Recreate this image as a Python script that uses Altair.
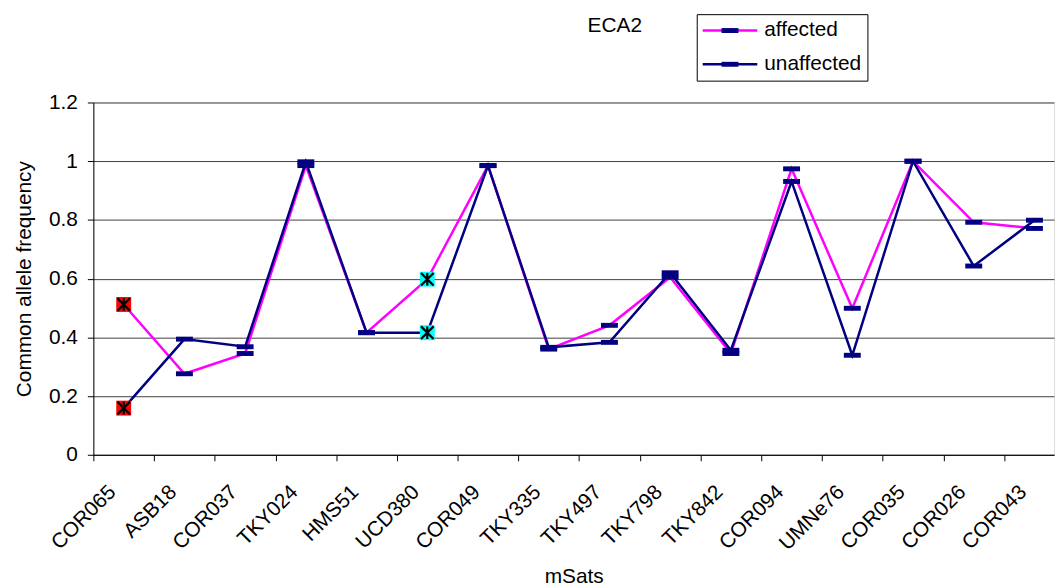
import json
import altair as alt
import pandas as pd

# ---------------- data ----------------
categories = ["COR065", "ASB18", "COR037", "TKY024", "HMS51", "UCD380", "COR049",
              "TKY335", "TKY497", "TKY798", "TKY842", "COR094", "UMNe76", "COR035",
              "COR026", "COR043"]
affected = [0.512, 0.276, 0.345, 0.985, 0.416, 0.598, 0.985, 0.360, 0.441, 0.605,
            0.345, 0.974, 0.499, 1.000, 0.792, 0.771]
unaffected = [0.159, 0.394, 0.368, 0.998, 0.416, 0.416, 0.985, 0.366, 0.383, 0.620,
              0.356, 0.931, 0.339, 1.000, 0.643, 0.799]
series_names = ["affected", "unaffected"]
y_ticks = [0, 0.2, 0.4, 0.6, 0.8, 1.0, 1.2]
highlight = {"COR065": "#FF0000", "UCD380": "#00FFFF"}

rows = []
for i, c in enumerate(categories):
    rows.append({"marker": c, "idx": i, "series": "affected", "value": affected[i]})
    rows.append({"marker": c, "idx": i, "series": "unaffected", "value": unaffected[i]})
df = pd.DataFrame(rows)

# ---------------- style ----------------
FONT = "Liberation Sans"
FS = 21
PINK = "#FF00FF"
NAVY = "#000080"
PLOT_W = 968
BAND = 61.18
X_MAX = PLOT_W / BAND

label_expr = json.dumps(categories) + "[datum.value]"

x_axis = alt.Axis(
    values=list(range(len(categories))), labelExpr=label_expr, title="mSats",
    labelAngle=315, labelAlign="right", labelBaseline="middle", labelOffset=19,
    labelPadding=28, labelFlush=False, labelOverlap=False, labelBound=False,
    labelFont=FONT, labelFontSize=FS, labelColor="black",
    titleFont=FONT, titleFontSize=FS, titleFontWeight="normal", titleColor="black",
    titlePadding=12, tickSize=6, tickColor="black", domainColor="black", grid=False,
)
y_axis = alt.Axis(
    values=y_ticks, format="~g", title="Common allele frequency",
    labelFont=FONT, labelFontSize=FS, labelColor="black", labelPadding=10,
    titleFont=FONT, titleFontSize=FS, titleFontWeight="normal", titleColor="black",
    titlePadding=14, tickSize=6, tickColor="black", domainColor="black",
    grid=True, gridColor="#404040", gridWidth=1,
)

x_enc = alt.X("pos:Q", scale=alt.Scale(domain=[0, X_MAX], nice=False, zero=False), axis=x_axis)
y_enc = alt.Y("value:Q", scale=alt.Scale(domain=[0, 1.2], nice=False), axis=y_axis)
x_s = alt.X("pos:Q")
y_s = alt.Y("value:Q")

legend_common = dict(
    title=None, orient="none", legendX=608, legendY=-89, symbolSize=121,
    symbolStrokeWidth=2.5, labelFont=FONT, labelFontSize=FS, padding=6,
    rowPadding=12, symbolOffset=17, labelOffset=24,
)

base = alt.Chart(df).transform_calculate(pos="datum.idx + 0.5")

# series lines (carry the line part of the legend)
line_path = "M-5,0H5"
lines = base.mark_line(strokeWidth=2.5).encode(
    x=x_enc, y=y_enc,
    color=alt.Color("series:N",
                    scale=alt.Scale(domain=series_names, range=[PINK, NAVY]),
                    legend=alt.Legend(symbolType=line_path, labelColor="black",
                                      strokeColor="black", **legend_common)),
)

# dash markers (carry the marker part of the legend, drawn over the first one)
dash_path = "M-1.55,-0.45H1.55V0.45H-1.55Z"
marker_keys = [s + " " for s in series_names]
hl_list = json.dumps(list(highlight.keys()))
dashes = base.transform_filter(f"indexof({hl_list}, datum.marker) < 0").transform_calculate(
    key="datum.series + ' '"
).mark_point(filled=True, size=121, color=NAVY, opacity=1).encode(
    x=x_s, y=y_s,
    shape=alt.Shape("key:N",
                    scale=alt.Scale(domain=marker_keys, range=[dash_path, dash_path]),
                    legend=alt.Legend(labelColor="transparent", strokeColor="transparent",
                                      symbolFillColor=NAVY, symbolStrokeColor="transparent",
                                      **legend_common)),
)

layers = [lines, dashes]
ast_path = "M-1,-1L1,1M-1,1L1,-1M0,-1L0,1"
for cat, col in highlight.items():
    sel = base.transform_filter(alt.datum.marker == cat)
    layers.append(sel.mark_square(size=225, color=col, filled=True, opacity=1).encode(x=x_s, y=y_s))
    layers.append(sel.mark_point(shape=ast_path, size=160, color="black", strokeWidth=2.2,
                                 filled=False, opacity=1).encode(x=x_s, y=y_s))

chart = alt.layer(*layers).properties(
    width=PLOT_W, height=355,
    title=alt.TitleParams("ECA2", anchor="start", frame="group", dx=498, dy=39.5, offset=0,
                          font=FONT, fontSize=FS, fontWeight="normal", color="black",
                          baseline="alphabetic"),
    autosize=alt.AutoSizeParams(type="none"),
    padding={"left": 86, "top": 93, "right": 1, "bottom": 130},
).configure_view(fill="#FFFFCC", strokeWidth=0).configure(font=FONT)

chart.save("out.html", embed_options={"renderer": "svg", "actions": False})
